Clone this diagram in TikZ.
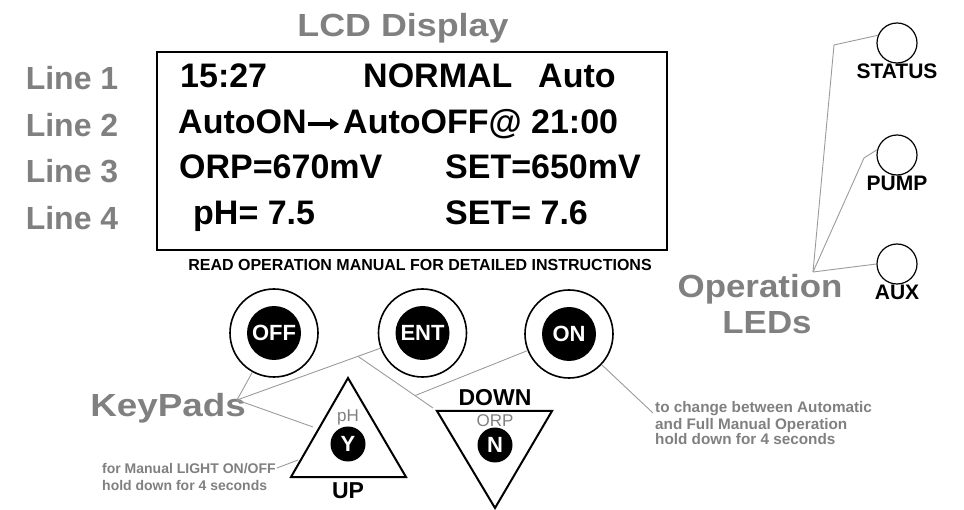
\documentclass[tikz,border=0pt]{standalone}
\usepackage{fontspec}
\setmainfont{Liberation Sans}
\usetikzlibrary{arrows.meta,calc}
\definecolor{lblgray}{RGB}{128,128,128}
\definecolor{lngray}{RGB}{155,155,155}
\begin{document}
\begin{tikzpicture}[x=1pt,y=-1pt,
  biglbl/.style={text=lblgray,font=\bfseries\fontsize{32}{32}\selectfont,inner sep=0,anchor=base},
  lcd/.style={font=\bfseries\fontsize{34}{34}\selectfont,inner sep=0,anchor=base west},
  conn/.style={draw=lngray,line width=0.9pt},
  ring/.style={circle,draw,line width=1.6pt,minimum size=88pt,inner sep=0},
  key/.style={circle,fill=black,text=white,font=\bfseries\fontsize{22}{22}\selectfont,minimum size=54pt,inner sep=0},
  smallkey/.style={circle,fill=black,text=white,font=\bfseries\fontsize{22}{22}\selectfont,minimum size=35pt,inner sep=0},
  led/.style={circle,draw,line width=1.2pt,minimum size=40pt,inner sep=0},
  ledlbl/.style={font=\bfseries\fontsize{21}{21}\selectfont,inner sep=0,anchor=base},
  noteR/.style={text=lblgray,font=\bfseries\fontsize{15.3}{15.3}\selectfont,inner sep=0,anchor=base west},
  noteL/.style={text=lblgray,font=\bfseries\fontsize{14}{14}\selectfont,inner sep=0,anchor=base west},
  keylbl/.style={font=\bfseries\fontsize{23}{23}\selectfont,inner sep=0,anchor=base},
  greylbl/.style={text=lblgray,font=\fontsize{17}{17}\selectfont,inner sep=0,anchor=base},
  tri/.style={draw,line width=2pt,line join=miter}
]
\useasboundingbox (0,0) rectangle (964,510);

% titles and line labels
\node[biglbl] (lcdt) at (403,37) {\scalebox{1.12}[1]{LCD Display}};
\node[biglbl] (l1) at (72,90) {Line 1};
\node[biglbl] (l2) at (72,137) {Line 2};
\node[biglbl] (l3) at (72,183) {Line 3};
\node[biglbl] (l4) at (72,230) {Line 4};

% LCD box
\node[draw,line width=2pt,minimum width=510pt,minimum height=198pt,inner sep=0] (lcdbox) at (412,151) {};
\node[lcd] (t1a) at (180,88) {15:27};
\node[lcd] (t1b) at (363,88) {NORMAL};
\node[lcd] (t1c) at (538,88) {Auto};
\node[lcd] (t2a) at (178,134) {AutoON};
\coordinate (arrA) at (308,124);
\coordinate (arrB) at (339,124);
\draw[line width=3.5pt,-{Triangle[length=9pt,width=11pt]}] (arrA) -- (arrB);
\node[lcd] (t2b) at (343,134) {AutoOFF@ 21:00};
\node[lcd] (t3a) at (179,179) {ORP=670mV};
\node[lcd] (t3b) at (445,179) {SET=650mV};
\node[lcd] (t4a) at (193,225) {pH= 7.5};
\node[lcd] (t4b) at (445,225) {SET= 7.6};

\node[font=\bfseries\fontsize{16}{16}\selectfont,inner sep=0,anchor=base] (read) at (420,271) {READ OPERATION MANUAL FOR DETAILED INSTRUCTIONS};

% round keys
\node[ring] (off) at (274,333) {};
\node[key] (offk) at (off) {OFF};
\node[ring] (ent) at (422.5,333) {};
\node[key] (entk) at (ent) {ENT};
\node[ring] (on) at (569,334) {};
\node[key] (onk) at (on) {ON};

% triangle keys
\coordinate (upT) at (348,378);
\coordinate (upR) at (406,477);
\coordinate (upLc) at (291,477);
\draw[tri] (upT) -- (upR) -- (upLc) -- cycle;
\node[greylbl] (phl) at (348,422) {pH};
\node[smallkey] (ykey) at (348,444) {Y};
\node[keylbl] (upl) at (348,498) {UP};

\coordinate (dnA) at (437,411);
\coordinate (dnB) at (552,411);
\coordinate (dnC) at (495,508);
\draw[tri] (dnA) -- (dnB) -- (dnC) -- cycle;
\node[keylbl] (downl) at (495,406) {DOWN};
\node[greylbl] (orpl) at (495,427) {ORP};
\node[smallkey] (nkey) at (495,445) {N};

% keypad labels and connectors
\node[biglbl] (keyp) at (168,417) {\scalebox{1.15}[1]{KeyPads}};
\coordinate (kp) at (237,400);
\coordinate (upL) at (313,427);
\draw[conn] (kp) -- (off);
\draw[conn] (kp) -- (ent);
\draw[conn] (kp) -- (upL);
\coordinate (j1) at ($(kp)!0.652!(ent.center)$);
\coordinate (dnL) at (433,408);
\draw[conn] (j1) -- (dnL);
\coordinate (j2) at ($(j1)!0.76!(dnL)$);
\draw[conn] (j2) -- (on);
\coordinate (onN) at (653,413);
\draw[conn] (on) -- (onN);
\coordinate (lgtN) at (277,468);
\coordinate (upE) at (298,460);
\draw[conn] (lgtN) -- (upE);

\node[noteR] (nr1) at (655,413) {to change between Automatic};
\node[noteR] (nr2) at (655,429) {and Full Manual Operation};
\node[noteR] (nr3) at (655,445) {hold down for 4 seconds};
\node[noteL] (nl1) at (102,473) {for Manual LIGHT ON/OFF};
\node[noteL] (nl2) at (102,490) {hold down for 4 seconds};

% LEDs
\node[led] (status) at (897,43) {};
\node[ledlbl] (statusl) at (897,79) {STATUS};
\node[led] (pump) at (897,155) {};
\node[ledlbl] (pumpl) at (897,191) {PUMP};
\node[led] (aux) at (897,264) {};
\node[ledlbl] (auxl) at (897,300) {AUX};
\node[biglbl] (op1) at (760,298) {\scalebox{1.09}[1]{Operation}};
\node[biglbl] (op2) at (767,334) {\scalebox{1.09}[1]{LEDs}};
\coordinate (ledhub) at (813,272);
\coordinate (sb) at (834,45);
\coordinate (pb) at (864,158);
\draw[conn] (ledhub) -- (sb) -- (status.158);
\draw[conn] (ledhub) -- (pb) -- (pump.165);
\draw[conn] (ledhub) -- (aux.180);
\end{tikzpicture}
\end{document}
